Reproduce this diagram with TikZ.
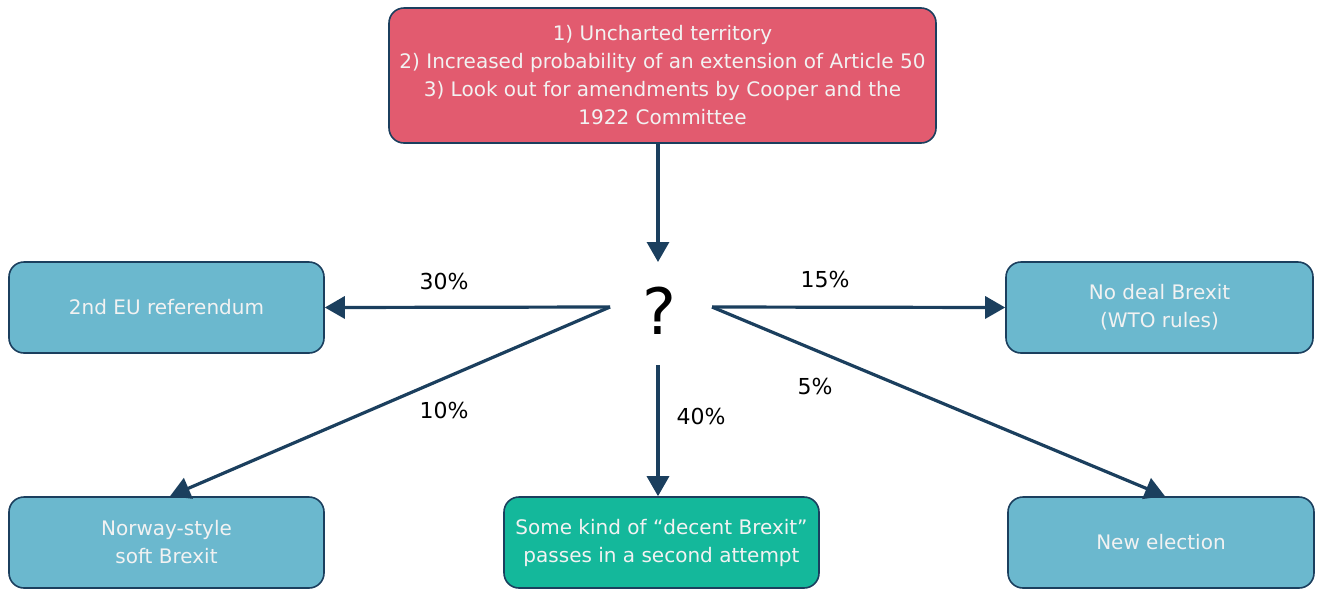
\documentclass[tikz,border=0pt]{standalone}
\usepackage{fontspec}
\setmainfont{DejaVu Sans}
\usetikzlibrary{arrows.meta}
\definecolor{navy}{HTML}{1B3F5E}
\definecolor{redfill}{HTML}{E25B6F}
\definecolor{bluefill}{HTML}{6BB8CE}
\definecolor{greenfill}{HTML}{14B89B}
\definecolor{boxtext}{HTML}{F2F2F2}
\begin{document}
\begin{tikzpicture}[x=1pt,y=1pt,
  box/.style={draw=navy, line width=1.6pt, rounded corners=15pt, text=boxtext, align=center,
    font=\fontsize{20}{28}\selectfont, inner sep=0pt},
  bluebox/.style={box, fill=bluefill, minimum width=315pt, minimum height=91pt},
  conn/.style={draw=navy, line width=3.2pt, -{Triangle[length=20pt,width=22pt]}},
  pct/.style={font=\fontsize{22}{24}\selectfont, text=black}]
\useasboundingbox (0,0) rectangle (1323,-590);
\node[box, fill=redfill, minimum width=547pt, minimum height=135pt] (top) at (662.5,-75.5)
  {1) Uncharted territory\\2) Increased probability of an extension of Article 50\\3) Look out for amendments by Cooper and the\\1922 Committee};
\node[bluebox] (ref) at (166.5,-307.5) {2nd EU referendum};
\node[bluebox, minimum width=307pt] (nodeal) at (1159.5,-307.5) {No deal Brexit\\(WTO rules)};
\node[bluebox] (norway) at (166.5,-542.5) {Norway-style\\soft Brexit};
\node[box, fill=greenfill, minimum width=315pt, minimum height=91pt] (decent) at (661.5,-542.5) {Some kind of “decent Brexit”\\passes in a second attempt};
\node[bluebox, minimum width=306pt] (elect) at (1161,-542.5) {New election};
\node[font=\fontsize{64}{64}\selectfont, inner sep=0pt] (q) at (659,-311) {?};
\coordinate (qT) at (658,-262);
\coordinate (qL) at (610,-307);
\coordinate (qR) at (712,-307);
\coordinate (qB) at (658,-365);
\draw[conn] (top.south -| qT) -- (qT);
\draw[conn] (qL) -- (ref.east);
\draw[conn] (qL) -- (norway.north -| 170,0);
\draw[conn] (qR) -- (nodeal.west);
\draw[conn] (qR) -- (elect.north -| 1165,0);
\draw[conn] (qB) -- (decent.north -| qB);
\node[pct] (p30) at (444,-281) {30\%};
\node[pct] (p15) at (825,-279) {15\%};
\node[pct] (p10) at (444,-410) {10\%};
\node[pct] (p5) at (815,-386) {5\%};
\node[pct] (p40) at (701,-416) {40\%};
\end{tikzpicture}
\end{document}
